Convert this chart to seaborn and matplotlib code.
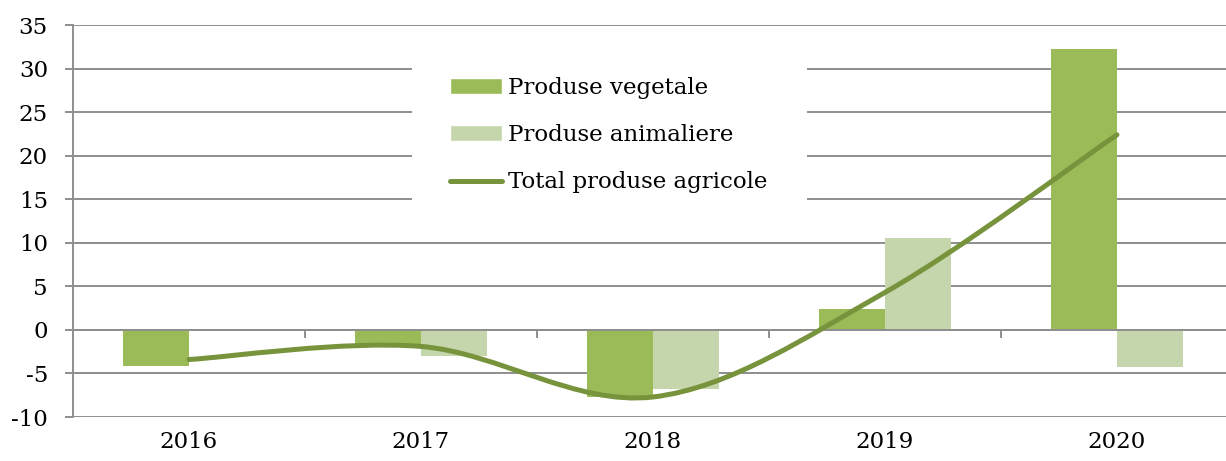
import numpy as np
import pandas as pd
import matplotlib
matplotlib.use('Agg')
import matplotlib.pyplot as plt
from matplotlib.path import Path
from matplotlib.patches import PathPatch, Patch
from matplotlib.lines import Line2D
import seaborn as sns

# date
ani = ['2016', '2017', '2018', '2019', '2020']
produse_vegetale = [-4.1, -1.7, -7.7, 2.4, 32.3]
produse_animaliere = [-0.15, -3.0, -6.8, 10.6, -4.3]
total_agricole = [-3.4, -1.9, -7.7, 4.3, 22.4]

serii = ['Produse vegetale', 'Produse animaliere']
culori = {'Produse vegetale': '#9BBB59', 'Produse animaliere': '#C6D6AC'}
culoare_linie = '#77933C'
gri = '#8E8E8E'

df = pd.DataFrame({
    'an': ani * 2,
    'valoare': produse_vegetale + produse_animaliere,
    'serie': [serii[0]] * len(ani) + [serii[1]] * len(ani),
})

sns.set_style('white')
plt.rcParams['font.family'] = ['DejaVu Serif']
plt.rcParams['axes.unicode_minus'] = False
plt.rcParams['text.color'] = 'black'
plt.rcParams['xtick.labelcolor'] = 'black'
plt.rcParams['ytick.labelcolor'] = 'black'
fs = 16.5

fig = plt.figure(figsize=(12.26, 4.61), dpi=100)
ax = fig.add_axes([73 / 1226, 1 - 417 / 461, 1 - 73 / 1226, (417 - 25) / 461])

sns.barplot(data=df, x='an', y='valoare', hue='serie', order=ani, hue_order=serii,
            palette=culori, saturation=1, width=0.57, gap=0, linewidth=0,
            legend=False, ax=ax)

# linie netezita (Bezier tip Excel) prin punctele totale
pts = np.column_stack([np.arange(len(ani)), total_agricole]).astype(float)
ext = np.vstack([pts[0], pts, pts[-1]])
verts = [pts[0]]
codes = [Path.MOVETO]
for i in range(len(pts) - 1):
    p_prev, p0, p1, p_next = ext[i], ext[i + 1], ext[i + 2], ext[i + 3]
    c1 = p0 + (p1 - p_prev) / 6
    c2 = p1 - (p_next - p0) / 6
    verts += [c1, c2, p1]
    codes += [Path.CURVE4] * 3
ax.add_patch(PathPatch(Path(verts, codes), facecolor='none', edgecolor=culoare_linie,
                       linewidth=3.6, capstyle='round', zorder=4))

ax.set_ylim(-10, 35)
ax.set_xlim(-0.5, 4.47)
ax.set_yticks(range(-10, 36, 5))
ax.set_axisbelow(True)
ax.yaxis.grid(True, color=gri, linewidth=1.4)
ax.tick_params(axis='y', length=6, width=1.4, color=gri, pad=12, labelsize=fs,
               labelcolor='black', left=True)

for s in ['top', 'right']:
    ax.spines[s].set_visible(False)
ax.spines['left'].set_color(gri)
ax.spines['left'].set_linewidth(1.4)
ax.spines['bottom'].set_position(('data', 0))
ax.spines['bottom'].set_color(gri)
ax.spines['bottom'].set_linewidth(1.4)

# tick-uri intre categorii pe axa de la 0, etichete jos
ax.set_xticks(np.arange(0.5, len(ani) - 1, 1.0))
ax.set_xticklabels([])
ax.tick_params(axis='x', length=6, width=1.4, color=gri, bottom=True, direction='out')
ax.set_xlabel('')
ax.set_ylabel('')

sec = ax.secondary_xaxis('bottom')
sec.set_xticks(range(len(ani)))
sec.set_xticklabels(ani)
sec.tick_params(length=0, pad=10, labelsize=fs, labelcolor='black')
sec.spines['bottom'].set_visible(False)

handles = [
    Patch(facecolor=culori[serii[0]], label=serii[0]),
    Patch(facecolor=culori[serii[1]], label=serii[1]),
    Line2D([], [], color=culoare_linie, linewidth=3.6, solid_capstyle='round',
           label='Total produse agricole'),
]
leg = ax.legend(handles=handles, loc='center', bbox_to_anchor=(0.465, 0.719),
                frameon=True, fontsize=fs, handlelength=2.27, handleheight=0.65,
                handletextpad=0.26, labelspacing=1.1, borderpad=1.7, fancybox=False)
leg.get_frame().set_facecolor('white')
leg.get_frame().set_edgecolor('none')
leg.get_frame().set_alpha(1)
leg.set_zorder(5)
for t in leg.get_texts():
    t.set_color('black')

plt.savefig('out.png', dpi=100)
